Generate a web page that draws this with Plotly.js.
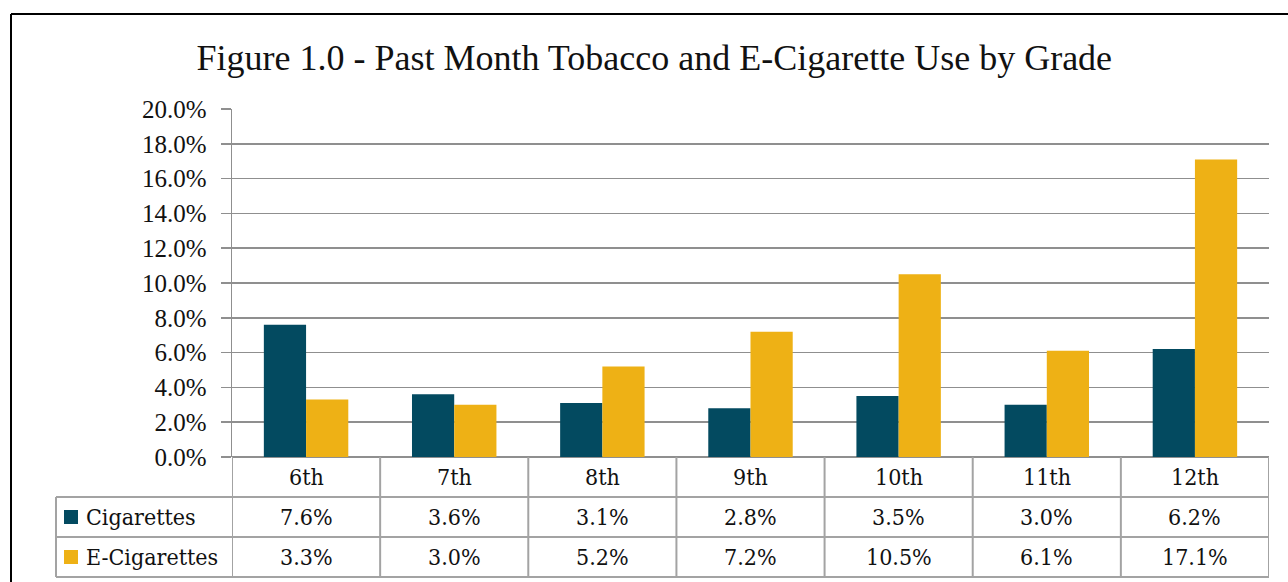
<!DOCTYPE html>
<html>
<head>
<meta charset="utf-8">
<script src="https://cdn.plot.ly/plotly-3.0.1.min.js"></script>
<style>
html,body{margin:0;padding:0;background:#fff;}
#chart{width:1288px;height:582px;}
</style>
</head>
<body>
<div id="chart"></div>
<script>
const grades = ["6th","7th","8th","9th","10th","11th","12th"];
const cigarettes = [0.076,0.036,0.031,0.028,0.035,0.030,0.062];
const eCigarettes = [0.033,0.030,0.052,0.072,0.105,0.061,0.171];
const seriesNames = ["Cigarettes","E-Cigarettes"];
const seriesColors = ["#034A60","#EEB115"];
const yTicks = [0,0.02,0.04,0.06,0.08,0.10,0.12,0.14,0.16,0.18,0.20];

// pixel helpers for table layout (plot area: x 232..1269, y 109..457)
const PL=232, PR=1269, PT=109, PB=457;
const px = x => (x-PL)/(PR-PL);
const py = y => (PB-y)/(PB-PT);

const gridCol = "#8f8f8f";
const tabCol = "#a3a3a3";
const tabFont = {family:"DejaVu Serif Condensed, DejaVu Serif, serif", size:23, color:"#111"};

const traces = [cigarettes, eCigarettes].map((vals,i)=>({
  type:"bar", name:seriesNames[i], x:grades, y:vals,
  marker:{color:seriesColors[i]}, hoverinfo:"none"
}));

const shapes = [];
const annotations = [];
// outer black border
shapes.push({type:"line", xref:"paper", yref:"paper", x0:px(11), x1:px(1300), y0:py(14), y1:py(14), line:{color:"#000", width:2}});
shapes.push({type:"line", xref:"paper", yref:"paper", x0:px(11), x1:px(11), y0:py(14), y1:py(600), line:{color:"#000", width:2}});

// table vertical lines at category boundaries
for (let i=0;i<=grades.length;i++){
  shapes.push({type:"line", xref:"x", yref:"paper", x0:i-0.5, x1:i-0.5, y0:0, y1:py(577), line:{color:tabCol, width:2}});
}
// legend column left edge
shapes.push({type:"line", xref:"paper", yref:"paper", x0:px(56), x1:px(56), y0:py(497), y1:py(577), line:{color:tabCol, width:2}});
// horizontal table lines
[497,537,577].forEach(y=>{
  shapes.push({type:"line", xref:"paper", yref:"paper", x0:px(56), x1:1, y0:py(y), y1:py(y), line:{color:tabCol, width:2}});
});

// category header labels
grades.forEach((g,i)=>{
  annotations.push({xref:"x", yref:"paper", x:g, y:py(477), text:g, showarrow:false, xanchor:"center", yanchor:"middle", font:tabFont});
});
// values rows
const rows = [cigarettes, eCigarettes];
const rowY = [517,557];
rows.forEach((vals,r)=>{
  vals.forEach((v,i)=>{
    annotations.push({xref:"x", yref:"paper", x:grades[i], y:py(rowY[r]), text:(v*100).toFixed(1)+"%", showarrow:false, xanchor:"center", yanchor:"middle", font:tabFont});
  });
  // legend key
  shapes.push({type:"rect", xref:"paper", yref:"paper", x0:px(64), x1:px(78), y0:py(rowY[r]-7), y1:py(rowY[r]+7), fillcolor:seriesColors[r], line:{width:0}});
  annotations.push({xref:"paper", yref:"paper", x:px(84), y:py(rowY[r]), text:seriesNames[r], showarrow:false, xanchor:"left", yanchor:"middle", font:tabFont});
});

const layout = {
  width:1288, height:582,
  margin:{l:PL, r:1288-PR, t:PT, b:582-PB, pad:0},
  paper_bgcolor:"#fff", plot_bgcolor:"#fff",
  showlegend:false,
  barmode:"group", bargap:0.43, bargroupgap:0,
  title:{text:"Figure 1.0 - Past Month Tobacco and E-Cigarette Use by Grade",
    font:{family:"Liberation Serif, serif", size:36, color:"#111"},
    xref:"container", yref:"container", x:0.508, xanchor:"center", y:1-57/582, yanchor:"middle"},
  xaxis:{type:"category", range:[-0.5,6.5], showticklabels:false, ticks:"", showgrid:false, zeroline:false, showline:false, fixedrange:true},
  yaxis:{range:[0,0.2], tickvals:yTicks, tickformat:".1%", ticks:"outside", ticklen:10, tickwidth:1.5, tickcolor:gridCol,
    showgrid:true, gridcolor:gridCol, gridwidth:1.5, zeroline:true, zerolinecolor:gridCol, zerolinewidth:1.5,
    showline:true, linecolor:gridCol, linewidth:1.5, ticklabelstandoff:9,
    tickfont:{family:"Liberation Serif, serif", size:25, color:"#111"}, fixedrange:true},
  shapes:shapes, annotations:annotations
};

Plotly.newPlot("chart", traces, layout, {displayModeBar:false, staticPlot:true});
</script>
</body>
</html>
